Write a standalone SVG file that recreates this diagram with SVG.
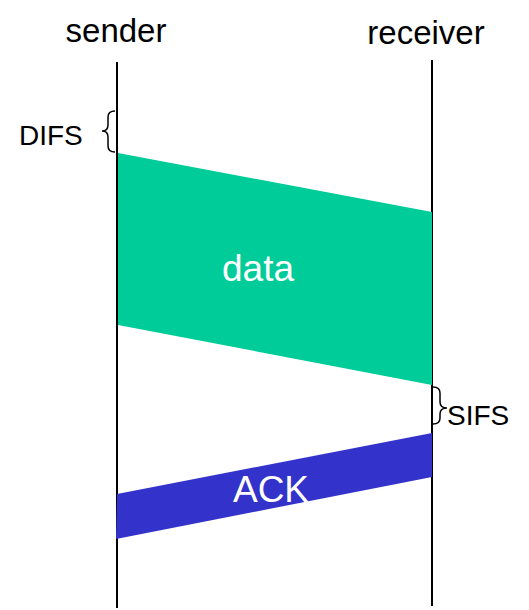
<svg xmlns="http://www.w3.org/2000/svg" width="529" height="610" viewBox="0 0 529 610">
<style>
text{font-family:"Liberation Sans",Arial,sans-serif;}
.lbl{font-size:33px;fill:#000;}
.sm{font-size:28px;fill:#000;}
.in{font-size:37px;fill:#fff;}
.life{stroke:#000;stroke-width:2;fill:none;}
.brace{stroke:#000;stroke-width:1.5;fill:none;}
</style>
<rect width="529" height="610" fill="#fff"/>
<g id="sender">
<text class="lbl" x="116" y="42" text-anchor="middle">sender</text>
<line class="life" x1="117" y1="62" x2="117" y2="608"/>
</g>
<g id="receiver">
<text class="lbl" x="426" y="44" text-anchor="middle">receiver</text>
<line class="life" x1="432" y1="60" x2="432" y2="606"/>
</g>
<g id="connectors">
<g id="data">
<polygon points="118,153 432,212 432,385 118,325" fill="#00cc99"/>
<text class="in" x="258" y="281" text-anchor="middle">data</text>
</g>
<g id="ack">
<polygon points="117,494 432,433 432,477 116,539" fill="#3333cc"/>
<text class="in" x="271" y="502" text-anchor="middle">ACK</text>
</g>
</g>
<g id="difs">
<path class="brace" d="M115,111 Q108,111 108,117 L108,125 Q108,131 102,131 Q108,131 108,137 L108,146 Q108,152 115,152"/>
<text class="sm" x="19" y="145">DIFS</text>
</g>
<g id="sifs">
<path class="brace" d="M433,387 Q440,387 440,393 L440,402 Q440,408 447,408 Q440,408 440,414 L440,418 Q440,424 433,424"/>
<text class="sm" x="447" y="425">SIFS</text>
</g>
</svg>
